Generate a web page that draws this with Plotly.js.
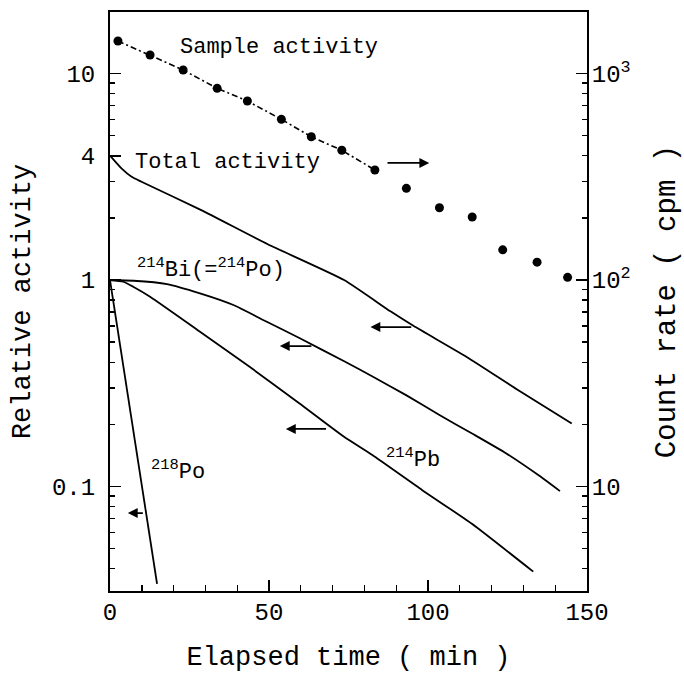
<!DOCTYPE html>
<html>
<head>
<meta charset="utf-8">
<script src="https://cdn.plot.ly/plotly-3.0.1.min.js"></script>
<style>html,body{margin:0;padding:0;background:#fff;}#chart{width:684px;height:673px;}</style>
</head>
<body>
<div id="chart"></div>
<script>
// ---- data ----
// Sample activity (count rate, cpm, right axis)
const sampleTime = [2.5, 12.6, 23.0, 33.7, 43.2, 53.9, 63.3, 72.9, 83.3, 93.2, 103.6, 113.9, 123.5, 134.3, 143.9];
const sampleCpm  = [1437, 1229, 1040, 848, 736, 600, 494, 425, 341, 278, 224, 202, 140, 122, 103];
const sampleFitCount = 9; // dash-dot line joins the first nine points

// Relative activity curves (left axis)
const totalTime = [0, 3.6, 6.8, 9.9, 28.7, 49.6, 73.6, 88.2, 95.4, 112.3, 127.9, 145.2];
const totalAct  = [4.0, 3.47, 3.16, 2.99, 2.18, 1.49, 1.0, 0.705, 0.600, 0.423, 0.296, 0.202];

const biTime = [0, 7.4, 17.9, 28.3, 38.8, 49.3, 59.7, 73.8, 82.7, 93.1, 103.6, 114.0, 124.5, 134.9, 141.5];
const biAct  = [1.0, 0.992, 0.956, 0.862, 0.757, 0.628, 0.522, 0.403, 0.340, 0.277, 0.222, 0.180, 0.145, 0.113, 0.095];

const pbTime = [0, 4.2, 7.3, 12.6, 28.3, 43.9, 59.5, 73.6, 82.5, 98.2, 113.8, 133.1];
const pbAct  = [1.0, 0.981, 0.928, 0.830, 0.562, 0.380, 0.253, 0.174, 0.142, 0.096, 0.066, 0.0387];

const poTime = [0, 14.8];
const poAct  = [1.0, 0.0338];

// axis ticks
const xMajor = [0, 50, 100, 150];
const xMinor = [10, 20, 30, 40, 60, 70, 80, 90, 110, 120, 130, 140];
const yMajor = [0.1, 1, 4, 10];
const yMajorText = ['0.1', '1', '4', '10'];
const yMinor = [0.04,0.05,0.06,0.07,0.08,0.09,0.2,0.3,0.4,0.5,0.6,0.7,0.8,0.9,2,3,5,6,7,8,9];
const y2Major = [10, 100, 1000];
const y2MajorText = ['10', '10<sup>2</sup>', '10<sup>3</sup>'];
const y2Minor = [4,5,6,7,8,9,20,30,40,50,60,70,80,90,200,300,400,500,600,700,800,900];

// arrows: [tailTime, headTime, level(left-axis units)]
const arrows = [
  [86.8, 100.4, 3.69],
  [95.2, 81.9, 0.592],
  [63.8, 53.4, 0.479],
  [68.4, 55.3, 0.190],
  [10.8, 5.6, 0.0744]
];

// labels: [text, time, level]
const labels = [
  ['Sample activity', 21.4, 13.4],
  ['Total activity', 7.2, 3.69],
  ['<sup>214</sup>Bi(=<sup>214</sup>Po)', 8.0, 1.14],
  ['<sup>218</sup>Po', 12.2, 0.119],
  ['<sup>214</sup>Pb', 86.2, 0.136]
];

// ---- figure ----
const FONT = 'Liberation Mono, Courier New, monospace';
const lineStyle = {color: '#000', width: 1.8, shape: 'spline', smoothing: 0.5};

const traces = [
  {x: totalTime, y: totalAct, mode: 'lines', line: lineStyle, yaxis: 'y'},
  {x: biTime, y: biAct, mode: 'lines', line: lineStyle, yaxis: 'y'},
  {x: pbTime, y: pbAct, mode: 'lines', line: lineStyle, yaxis: 'y'},
  {x: poTime, y: poAct, mode: 'lines', line: {color: '#000', width: 1.8}, yaxis: 'y'},
  {x: sampleTime.slice(0, sampleFitCount), y: sampleCpm.slice(0, sampleFitCount), mode: 'lines',
   line: {color: '#000', width: 1.6, dash: '6px,3px,2px,3px'}, yaxis: 'y2'},
  {x: sampleTime, y: sampleCpm, mode: 'markers', marker: {color: '#000', size: 9}, yaxis: 'y2'}
];

const annotations = [];
arrows.forEach(a => {
  annotations.push({
    x: a[1], y: Math.log10(a[2]), ax: a[0], ay: Math.log10(a[2]),
    xref: 'x', yref: 'y', axref: 'x', ayref: 'y',
    text: '', showarrow: true, arrowhead: 2, arrowsize: 1.1, arrowwidth: 1.8,
    arrowcolor: '#000', standoff: 0, startstandoff: 0
  });
});
labels.forEach(l => {
  annotations.push({
    x: l[1], y: Math.log10(l[2]), xref: 'x', yref: 'y',
    text: l[0], showarrow: false, xanchor: 'left', yanchor: 'middle',
    font: {family: FONT, size: 22, color: '#000'}
  });
});

const layout = {
  width: 684, height: 673,
  margin: {l: 110, r: 97, t: 12, b: 82, pad: 0},
  paper_bgcolor: '#fff', plot_bgcolor: '#fff',
  showlegend: false,
  font: {family: FONT, color: '#000'},
  xaxis: {
    range: [0, 150], showgrid: false, zeroline: false,
    showline: true, linecolor: '#000', linewidth: 2, mirror: true,
    ticks: 'inside', ticklen: 11, tickwidth: 1.6, tickcolor: '#000',
    tickmode: 'array', tickvals: xMajor,
    minor: {tickmode: 'array', tickvals: xMinor, ticks: 'inside', ticklen: 6, tickwidth: 1.4, tickcolor: '#000', showgrid: false},
    tickfont: {family: FONT, size: 24}, ticklabelstandoff: -2,
    title: {text: 'Elapsed time ( min )', font: {family: FONT, size: 27}, standoff: 24}
  },
  yaxis: {
    type: 'log', range: [-1.506, 1.298], showgrid: false, zeroline: false,
    showline: true, linecolor: '#000', linewidth: 2,
    ticks: 'inside', ticklen: 11, tickwidth: 1.6, tickcolor: '#000',
    tickmode: 'array', tickvals: yMajor, ticktext: yMajorText,
    minor: {tickmode: 'array', tickvals: yMinor, ticks: 'inside', ticklen: 5, tickwidth: 1.4, tickcolor: '#000', showgrid: false},
    tickfont: {family: FONT, size: 24}, ticklabelstandoff: 8,
    title: {text: 'Relative activity', font: {family: FONT, size: 27}, standoff: 14}
  },
  yaxis2: {
    type: 'log', range: [0.494, 3.298], overlaying: 'y', side: 'right',
    showgrid: false, zeroline: false,
    showline: true, linecolor: '#000', linewidth: 2,
    ticks: 'inside', ticklen: 11, tickwidth: 1.6, tickcolor: '#000',
    tickmode: 'array', tickvals: y2Major, ticktext: y2MajorText,
    minor: {tickmode: 'array', tickvals: y2Minor, ticks: 'inside', ticklen: 5, tickwidth: 1.4, tickcolor: '#000', showgrid: false},
    tickfont: {family: FONT, size: 24}, ticklabelstandoff: -2,
    title: {text: 'Count rate ( cpm )', font: {family: FONT, size: 29}, standoff: 36}
  },
  annotations: annotations
};

Plotly.newPlot('chart', traces, layout, {displayModeBar: false, staticPlot: true});
</script>
</body>
</html>
